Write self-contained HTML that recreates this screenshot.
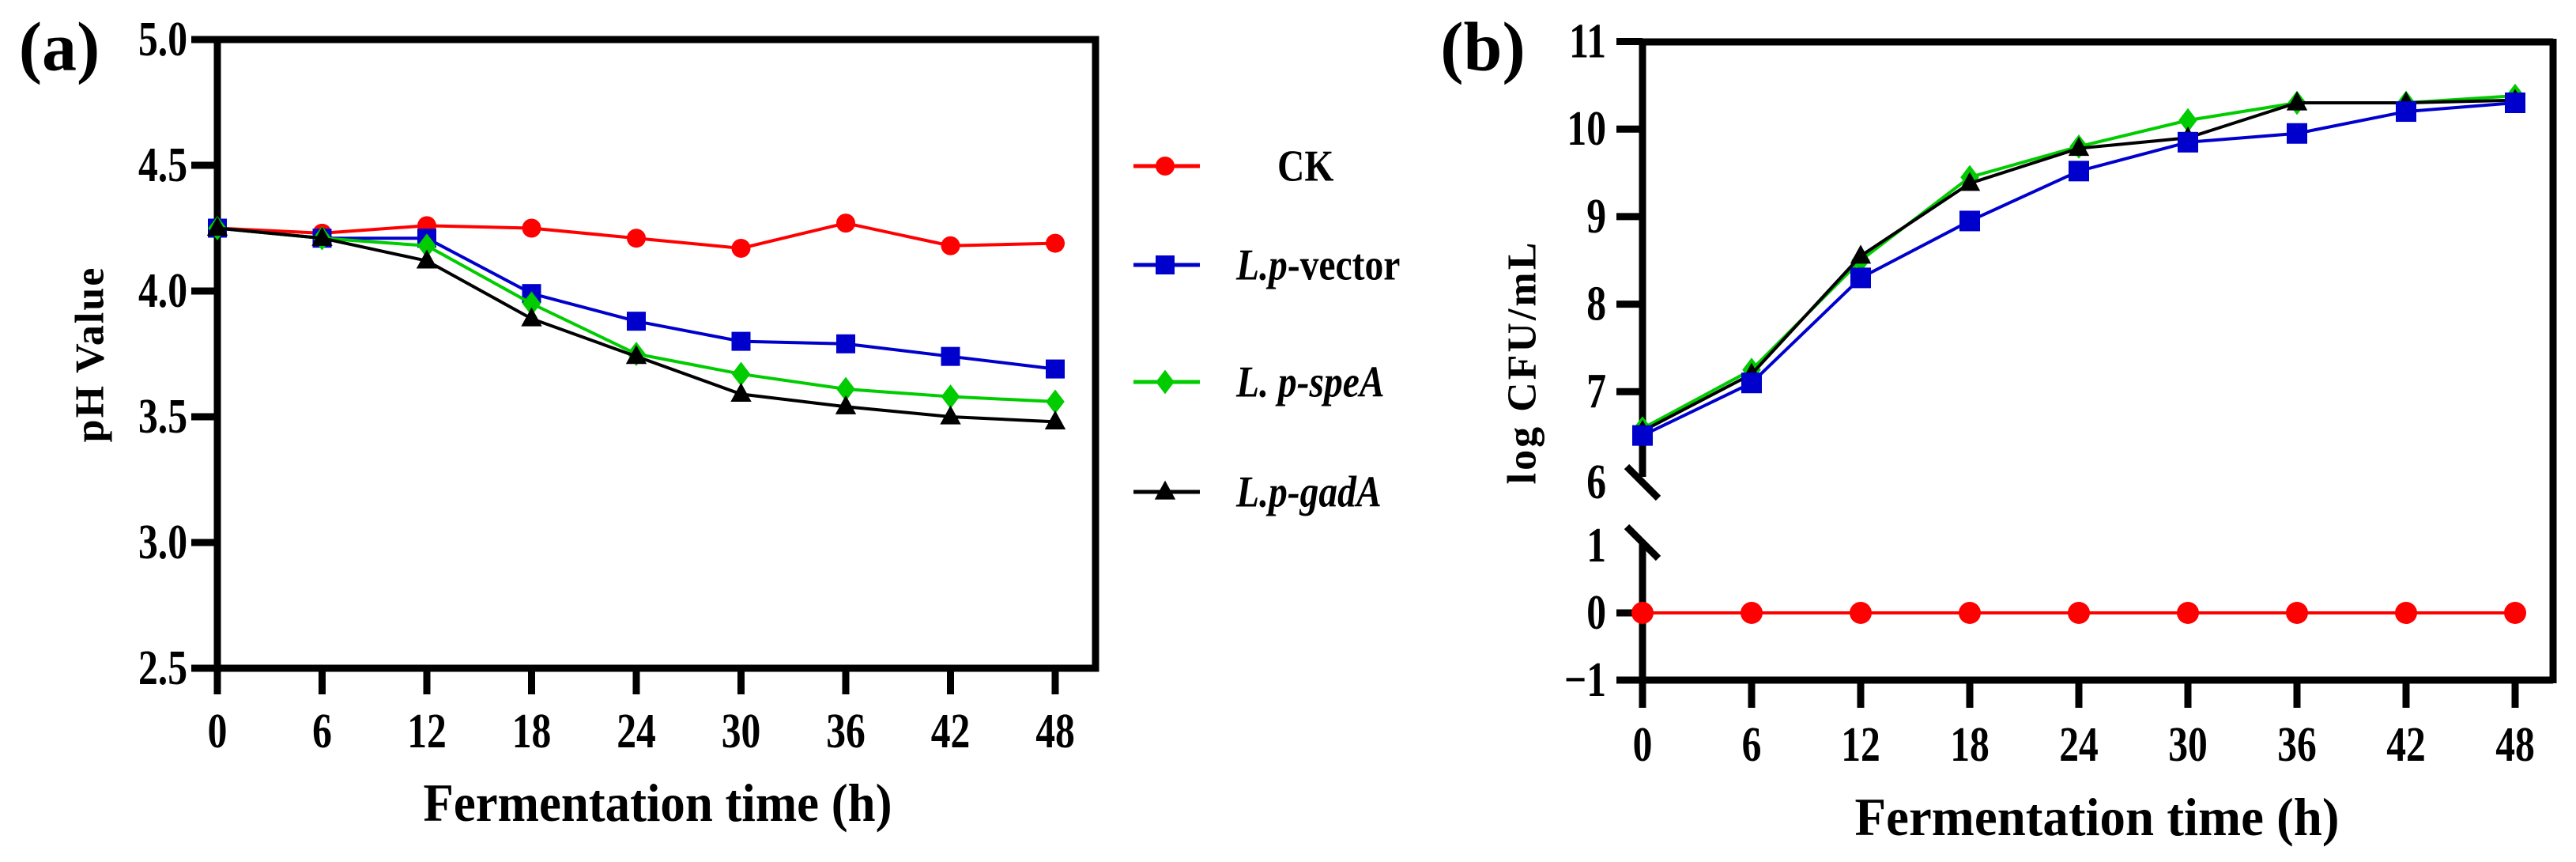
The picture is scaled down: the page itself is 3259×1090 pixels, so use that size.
<!DOCTYPE html>
<html><head><meta charset="utf-8"><style>
html,body{margin:0;padding:0;background:#fff;}
svg{display:block;font-family:"Liberation Serif",serif;}
</style></head><body>
<svg id="fig" width="3259" height="1090" viewBox="0 0 3259 1090" xmlns="http://www.w3.org/2000/svg"></svg>
<script>
const hours = [0,6,12,18,24,30,36,42,48];
const phCK = [4.25,4.23,4.26,4.25,4.21,4.17,4.27,4.18,4.19];
const phVector = [4.25,4.21,4.21,3.99,3.88,3.80,3.79,3.74,3.69];
const phSpeA = [4.25,4.21,4.18,3.95,3.75,3.67,3.61,3.58,3.56];
const phGadA = [4.25,4.21,4.12,3.89,3.74,3.59,3.54,3.50,3.48];
const cfuCK = [0,0,0,0,0,0,0,0,0];
const cfuVector = [6.5,7.1,8.3,8.95,9.52,9.85,9.95,10.2,10.3];
const cfuSpeA = [6.58,7.25,8.5,9.45,9.8,10.1,10.3,10.3,10.38];
const cfuGadA = [6.55,7.2,8.55,9.38,9.78,9.9,10.3,10.3,10.33];
const phTicks = ["2.5","3.0","3.5","4.0","4.5","5.0"];
const cfuUpperTicks = ["6","7","8","9","10","11"];
const cfuLowerTicks = ["-1","0","1"];

const NS="http://www.w3.org/2000/svg";
const svg=document.getElementById('fig');
function el(tag,attrs,parent,text){const e=document.createElementNS(NS,tag);for(const k in attrs)e.setAttribute(k,attrs[k]);if(text!==undefined)e.textContent=text;(parent||svg).appendChild(e);return e;}
function txt(x,y,s,size,anchor,parent,sx){
  const t=el('text',{transform:`translate(${x},${y}) scale(${sx||0.8},1)`,'font-size':size,'font-weight':'bold','text-anchor':anchor||'middle','dominant-baseline':'central',fill:'#000'},parent,s);
  return t;
}
function marker(type,x,y,color,size,parent){
  let m;
  if(type==='circle') m=el('circle',{cx:x,cy:y,r:size/2,fill:color},parent);
  else if(type==='square') m=el('rect',{x:x-size/2,y:y-size/2,width:size,height:size,fill:color},parent);
  else if(type==='diamond') m=el('polygon',{points:`${x},${y-size*0.55} ${x+size*0.42},${y} ${x},${y+size*0.55} ${x-size*0.42},${y}`,fill:color},parent);
  else m=el('polygon',{points:`${x},${y-size*0.6} ${x+size*0.55},${y+size*0.4} ${x-size*0.55},${y+size*0.4}`,fill:color},parent);
  return m;
}
function series(vals,xf,yf,color,type,size,name,parent){
  const g=el('g',{},parent);
  
  
  el('polyline',{points:vals.map((v,i)=>xf(hours[i])+','+yf(v)).join(' '),fill:'none',stroke:color,'stroke-width':4},g);
  vals.forEach((v,i)=>{const m=marker(type,xf(hours[i]),yf(v),color,size,g);
    
    });
}

// ---------- Panel A ----------
const A=el('g',{});


const axL=275, axR=1386, axT=50, axB=845;
const xA=h=>axL+h/48*(1335-axL);
const yA=v=>axB-(v-2.5)/2.5*(axB-axT);
el('rect',{x:axL,y:axT,width:axR-axL,height:axB-axT,fill:'none',stroke:'#000','stroke-width':9},A);
const yTA=el('g',{},A);


phTicks.forEach(s=>{const y=yA(parseFloat(s));el('line',{x1:242,y1:y,x2:axL,y2:y,stroke:'#000','stroke-width':9},yTA);txt(237,y,s,62,'end',yTA);});
const xTA=el('g',{},A);


hours.forEach(h=>{const x=xA(h);el('line',{x1:x,y1:axB,x2:x,y2:878,stroke:'#000','stroke-width':9},xTA);txt(x,925,String(h),62,'middle',xTA);});
series(phCK,xA,yA,'#ff0000','circle',24,'series-ck',A);
series(phVector,xA,yA,'#0000cc','square',24,'series-vector',A);
series(phSpeA,xA,yA,'#00cc00','diamond',28,'series-spea',A);
series(phGadA,xA,yA,'#000000','triangle',24,'series-gada',A);
let t=el('text',{x:832,y:1015,'font-size':68,'font-weight':'bold','text-anchor':'middle','dominant-baseline':'central',textLength:593,lengthAdjust:'spacingAndGlyphs'},A,'Fermentation time (h)');


t=el('text',{transform:'translate(114,448) rotate(-90)','font-size':52,'font-weight':'bold','text-anchor':'middle','dominant-baseline':'central','letter-spacing':2},A,'pH Value');


t=el('text',{x:75,y:60,'font-size':88,'font-weight':'bold','text-anchor':'middle','dominant-baseline':'central'},A,'(a)');



// ---------- Legend ----------
const L=el('g',{});


const legend=[
 {y:210,c:'#ff0000',m:'circle',parts:[['CK','normal']],tx:1616,name:'legend-ck'},
 {y:335,c:'#0000cc',m:'square',parts:[['L.p','italic'],['-vector','normal']],tx:1564,name:'legend-vector'},
 {y:483,c:'#00cc00',m:'diamond',parts:[['L. p-speA','italic']],tx:1564,name:'legend-spea'},
 {y:622,c:'#000000',m:'triangle',parts:[['L.p-gadA','italic']],tx:1564,name:'legend-gada'}];
legend.forEach(d=>{const g=el('g',{},L);
 
 
 el('line',{x1:1434,y1:d.y,x2:1518,y2:d.y,stroke:d.c,'stroke-width':5},g);
 marker(d.m,1474,d.y,d.c,d.m==='diamond'?28:24,g);
 const tt=el('text',{transform:`translate(${d.tx},${d.y}) scale(0.85,1)`,'font-size':56,'font-weight':'bold','dominant-baseline':'central'},g);
 d.parts.forEach(p=>el('tspan',{'font-style':p[1]},tt,p[0]));
});

// ---------- Panel B ----------
const B=el('g',{});


const bL=2078,bR=3230,bT=53,bB=860;
const xB=h=>bL+h/48*(3182-bL);
const yB=v=> v>=5 ? 606-(v-6)*110.7 : 775-v*85;
el('line',{x1:bL-4,y1:bT,x2:bR,y2:bT,stroke:'#000','stroke-width':9},B);
el('line',{x1:bR,y1:bT-4,x2:bR,y2:bB+4,stroke:'#000','stroke-width':9},B);
el('line',{x1:2045,y1:bB,x2:bR,y2:bB,stroke:'#000','stroke-width':9},B);
el('line',{x1:bL,y1:bT,x2:bL,y2:603,stroke:'#000','stroke-width':9},B);
el('line',{x1:bL,y1:686,x2:bL,y2:bB,stroke:'#000','stroke-width':9},B);
el('line',{x1:2058,y1:590,x2:2098,y2:630,stroke:'#000','stroke-width':9},B);
el('line',{x1:2058,y1:666,x2:2098,y2:706,stroke:'#000','stroke-width':9},B);
const yTB=el('g',{},B);


cfuUpperTicks.forEach(s=>{const y=yB(parseFloat(s));if(s!=='6')el('line',{x1:2045,y1:y,x2:bL,y2:y,stroke:'#000','stroke-width':9},yTB);txt(2032,y+(s==='6'?4:0),s,62,'end',yTB);});
cfuLowerTicks.forEach(s=>{const v=parseFloat(s);const y=yB(v);if(s==='0')el('line',{x1:2045,y1:y,x2:bL,y2:y,stroke:'#000','stroke-width':9},yTB);txt(2032,y,s==='-1'?'\u22121':s,62,'end',yTB);});
const xTB=el('g',{},B);


hours.forEach(h=>{const x=xB(h);el('line',{x1:x,y1:bB,x2:x,y2:895,stroke:'#000','stroke-width':9},xTB);txt(x,942,String(h),62,'middle',xTB);});
series(cfuCK,xB,yB,'#ff0000','circle',28,'series-ck',B);
series(cfuSpeA,xB,yB,'#00cc00','diamond',28,'series-spea',B);
series(cfuGadA,xB,yB,'#000000','triangle',24,'series-gada',B);
series(cfuVector,xB,yB,'#0000cc','square',26,'series-vector',B);
t=el('text',{x:2653,y:1033,'font-size':68,'font-weight':'bold','text-anchor':'middle','dominant-baseline':'central',textLength:613,lengthAdjust:'spacingAndGlyphs'},B,'Fermentation time (h)');


t=el('text',{transform:'translate(1926,458) rotate(-90)','font-size':52,'font-weight':'bold','text-anchor':'middle','dominant-baseline':'central','letter-spacing':3},B,'log CFU/mL');


t=el('text',{x:1876,y:60,'font-size':88,'font-weight':'bold','text-anchor':'middle','dominant-baseline':'central'},B,'(b)');


</script>
</body></html>
